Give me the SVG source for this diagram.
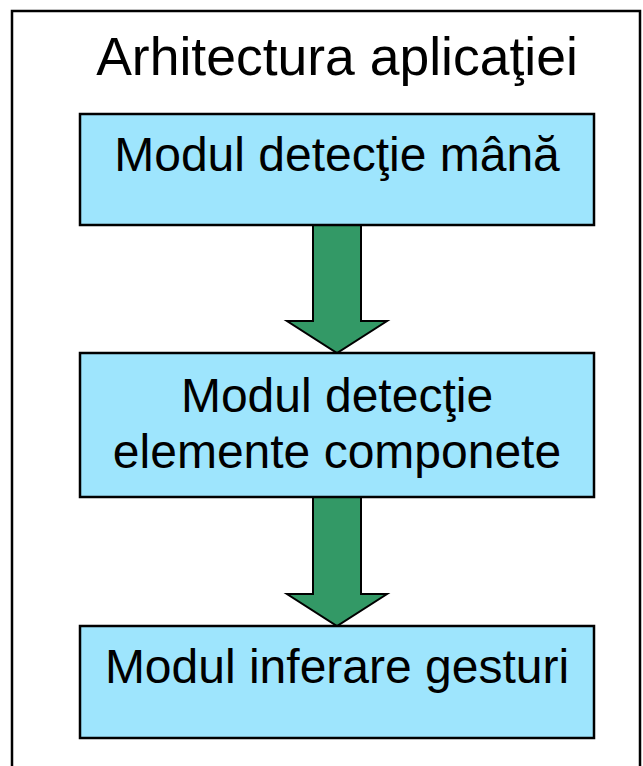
<svg xmlns="http://www.w3.org/2000/svg" width="643" height="766" viewBox="0 0 643 766">
<style>
.box{fill:#9ee5fd;stroke:#000;stroke-width:2.5}
.arr{fill:#339966;stroke:#000;stroke-width:2}
.t{font-family:"Liberation Sans",Arial,sans-serif;font-size:48px;fill:#000;text-anchor:middle}
</style>
<rect x="0" y="0" width="643" height="766" fill="#fff"/>
<rect x="12" y="11" width="628" height="800" fill="none" stroke="#000" stroke-width="2.5"/>
<text class="t" x="337" y="75" style="font-size:53.5px">Arhitectura aplicaţiei</text>
<g id="connectors">
<polygon class="arr" points="313,225 361,225 361,321 387,321 337,353 287,321 313,321"/>
<polygon class="arr" points="313,497 361,497 361,594 387,594 337,626 287,594 313,594"/>
</g>
<g id="node1">
<rect class="box" x="80" y="114" width="514" height="111"/>
<text class="t" x="337" y="171">Modul detecţie mână</text>
</g>
<g id="node2">
<rect class="box" x="80" y="353" width="514" height="144"/>
<text class="t" x="337" y="412">Modul detecţie</text>
<text class="t" x="337" y="468">elemente componete</text>
</g>
<g id="node3">
<rect class="box" x="80" y="626" width="514" height="112"/>
<text class="t" x="337" y="683">Modul inferare gesturi</text>
</g>
</svg>
